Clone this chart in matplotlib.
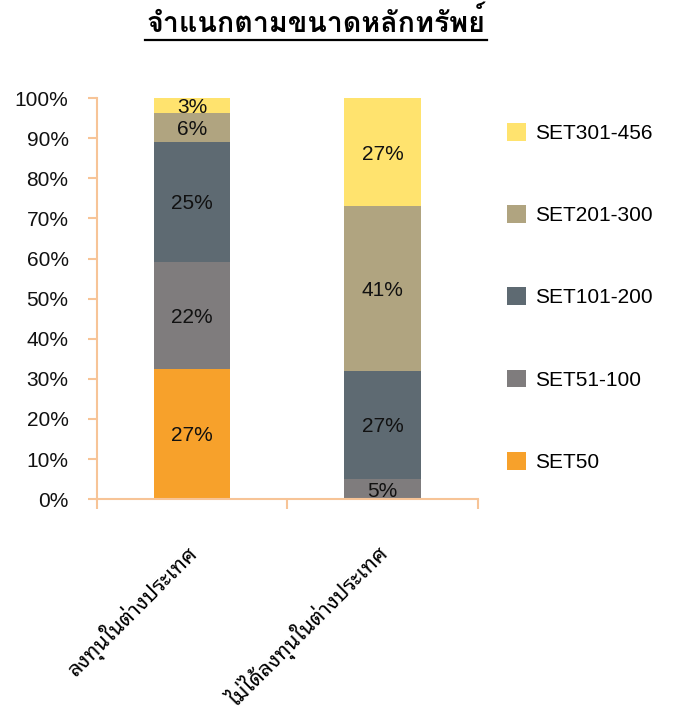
import matplotlib
matplotlib.use("Agg")
import matplotlib.pyplot as plt
from matplotlib.lines import Line2D
from matplotlib.patches import Patch
import numpy as np

plt.rcParams['font.family'] = ['Liberation Sans', 'Loma']

categories = ['ลงทุนในต่างประเทศ', 'ไม่ได้ลงทุนในต่างประเทศ']
series = ['SET50', 'SET51-100', 'SET101-200', 'SET201-300', 'SET301-456']
set50 = [27, 0]
set51_100 = [22, 5]
set101_200 = [25, 27]
set201_300 = [6, 41]
set301_456 = [3, 27]
yticks = [0, 10, 20, 30, 40, 50, 60, 70, 80, 90, 100]
title = 'จำแนกตามขนาดหลักทรัพย์'

colors = ['#F7A12B', '#7F7C7D', '#5E6A72', '#B0A480', '#FFE36E']
axis_color = '#F7C497'

values = np.array([set50, set51_100, set101_200, set201_300, set301_456], dtype=float)
shares = values / values.sum(axis=0) * 100

fig = plt.figure(figsize=(6.75, 7.13), dpi=100)
ax = fig.add_axes([0.1437, 0.300, 0.564, 0.5624])

x = np.arange(len(categories))
bottom = np.zeros(len(categories))
handles = []
for i, name in enumerate(series):
    ax.bar(x, shares[i], 0.4, bottom=bottom, color=colors[i], linewidth=0)
    for j in range(len(categories)):
        if values[i, j] > 0:
            ax.text(x[j], bottom[j] + shares[i, j] / 2, f'{values[i, j]:.0f}%',
                    ha='center', va='center_baseline', fontsize=15, color='#111111')
    bottom += shares[i]
    handles.append(Patch(facecolor=colors[i], label=name))

ax.set_xlim(-0.5, 1.5)
ax.set_ylim(0, 100)
ax.set_yticks(yticks)
ax.set_yticklabels([f'{t}%' for t in yticks], fontsize=15, color='#111111')
ax.set_xticks([-0.5, 0.5, 1.5])
ax.set_xticklabels([])
ax.tick_params(axis='y', length=6.5, width=1.5, color=axis_color, pad=14)
ax.tick_params(axis='x', length=7.5, width=1.5, color=axis_color)

for s in ['top', 'right']:
    ax.spines[s].set_visible(False)
for s in ['left', 'bottom']:
    ax.spines[s].set_color(axis_color)
    ax.spines[s].set_linewidth(1.5)

# category names, rotated under the bars
for j, cat in enumerate(categories):
    ax.annotate(cat, xy=(x[j], 0), xycoords='data', xytext=(2, -51),
                textcoords='offset pixels', rotation=45, rotation_mode='anchor',
                ha='right', va='center', fontsize=15.5, family=['Noto Sans Thai Looped'])

fig.legend(handles=handles[::-1], loc='upper left', bbox_to_anchor=(507 / 675, 1 - 123 / 713),
           frameon=False, fontsize=15, borderpad=0, borderaxespad=0,
           handlelength=0.92, handleheight=0.92, handletextpad=0.45, labelspacing=2.99)

t = fig.text(316 / 675, 1 - 22 / 713, title, ha='center', va='center',
             fontsize=20.6, fontweight='bold', family=['Loma'])
fig.canvas.draw()
bb = t.get_window_extent()
uy = (713 - 40) / 713
fig.add_artist(Line2D([bb.x0 / 675 - 0.003, bb.x1 / 675 + 0.003], [uy, uy], color='black', linewidth=1.6))

fig.savefig('out.png', dpi=100)
